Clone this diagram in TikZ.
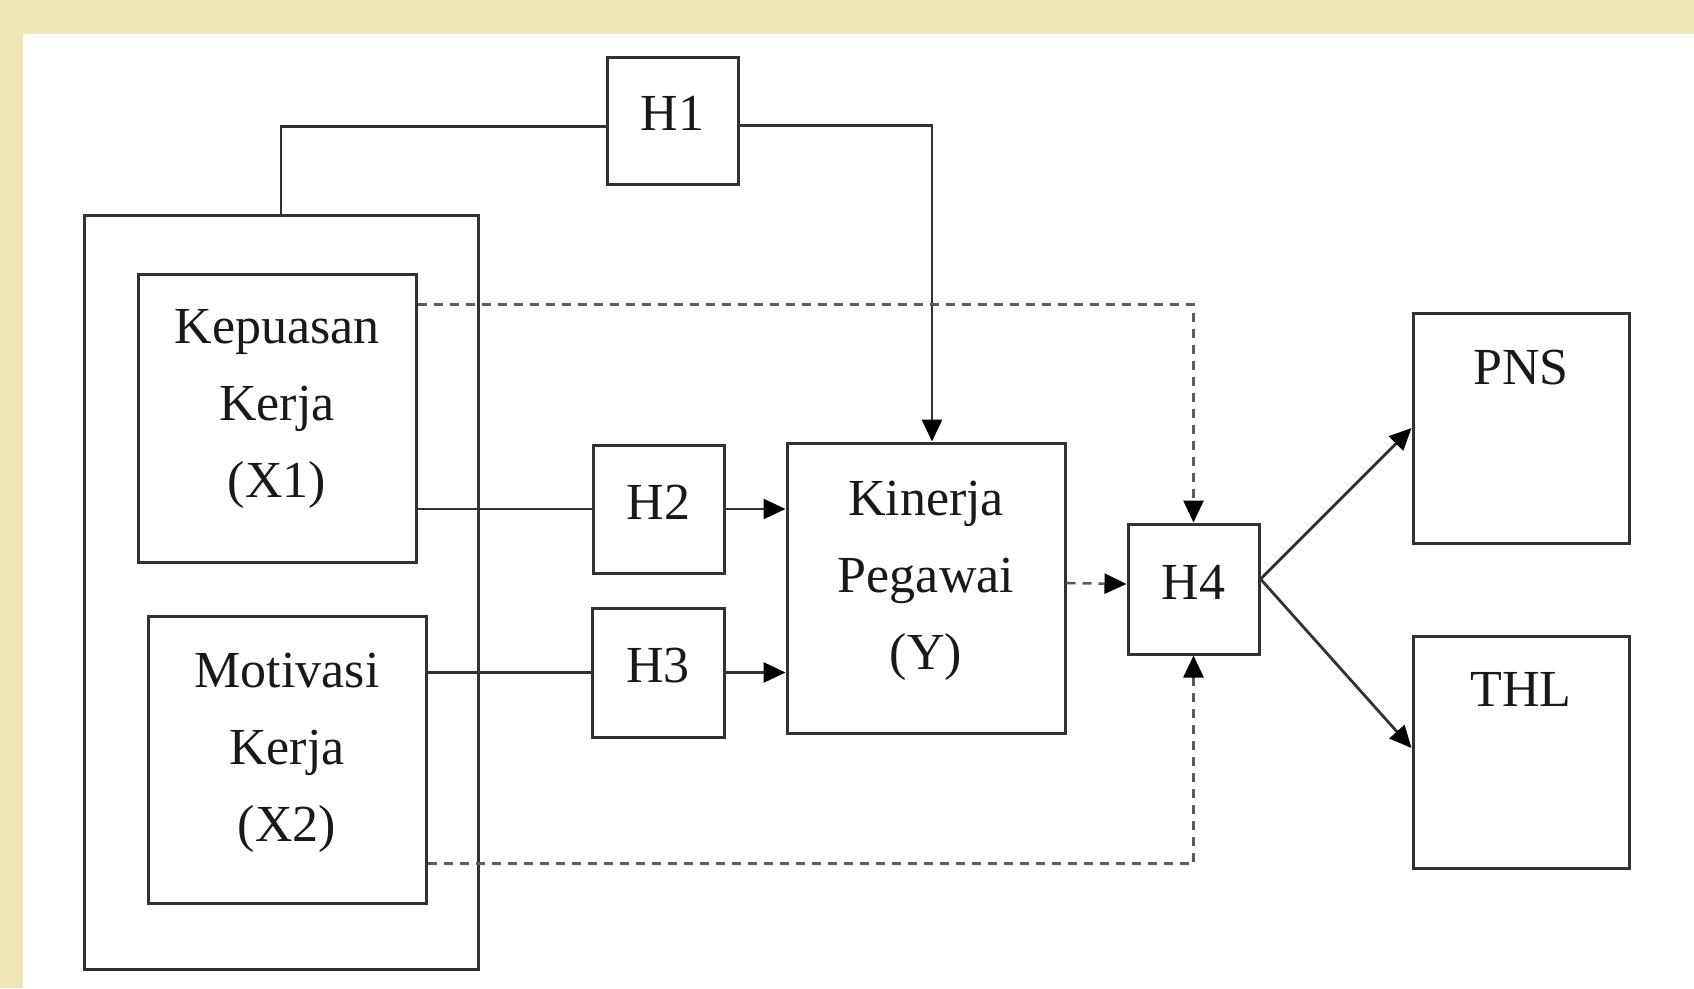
\documentclass[tikz,border=0pt]{standalone}
\usepackage{fontspec}
\setmainfont{Liberation Serif}
\usetikzlibrary{arrows.meta,calc}
\definecolor{beige}{RGB}{240,230,184}
\definecolor{ln}{RGB}{50,50,50}
\definecolor{txt}{RGB}{25,25,25}
\begin{document}
\begin{tikzpicture}[x=1pt,y=-1pt,
  box/.style={draw=ln,line width=3pt,fill=white,inner sep=0pt},
  lbl/.style={inner sep=0pt,text=txt,align=center,font=\fontsize{52}{77}\selectfont},
  conn/.style={draw=ln,line width=2.8pt},
  arr/.style={conn,-{Triangle[length=22pt,width=20pt,color=black]}},
  dsh/.style={draw=ln!80,line width=2.6pt,dash pattern=on 9pt off 7pt},
  darr/.style={dsh,-{Triangle[length=22pt,width=20pt,color=black]}}]
\useasboundingbox (0,0) rectangle (1694,988);
\fill[beige] (0,0) rectangle (1694,988);
\fill[white] (23,34) rectangle (1694,988);
% boxes
\node[box,minimum width=394pt,minimum height=754pt] (outer) at (281,592) {};
\node[box,minimum width=278pt,minimum height=288pt] (kep) at (277,418) {};
\node[box,minimum width=278pt,minimum height=287pt] (mot) at (287,759.5) {};
\node[box,minimum width=131pt,minimum height=127pt] (h1) at (672.5,120.5) {};
\node[box,minimum width=131pt,minimum height=128pt] (h2) at (658.5,509) {};
\node[box,minimum width=132pt,minimum height=129pt] (h3) at (658,672.5) {};
\node[box,minimum width=278pt,minimum height=290pt] (kin) at (926,588) {};
\node[box,minimum width=131pt,minimum height=130pt] (h4) at (1193.5,589) {};
\node[box,minimum width=216pt,minimum height=230pt] (pns) at (1521,428) {};
\node[box,minimum width=216pt,minimum height=232pt] (thl) at (1521,752) {};
% texts
\node[lbl] (kept) at ([yshift=9pt]kep.center) {Kepuasan\\Kerja\\(X1)};
\node[lbl] (mott) at ([yshift=7pt]mot.center) {Motivasi\\Kerja\\(X2)};
\node[lbl] (h1t) at ([yshift=7pt]h1.center) {H1};
\node[lbl] (h2t) at ([yshift=7pt]h2.center) {H2};
\node[lbl] (h3t) at ([yshift=7pt]h3.center) {H3};
\node[lbl] (kint) at ([yshift=7pt]kin.center) {Kinerja\\Pegawai\\(Y)};
\node[lbl] (h4t) at ([yshift=7pt]h4.center) {H4};
\node[lbl,anchor=north] (pnst) at ([yshift=-38pt]pns.north) {PNS};
\node[lbl,anchor=north] (thlt) at ([yshift=-38pt]thl.north) {THL};
% connectors
\draw[conn] (outer.north) |- ([yshift=-6pt]h1.west);
\draw[arr] ([yshift=-5pt]h1.east) -| ([xshift=6pt]kin.north);
\draw[conn] (h2.west) -- (h2.west -| kep.east);
\draw[arr] (h2.east) -- (h2.east -| kin.west);
\draw[conn] (h3.west) -- (h3.west -| mot.east);
\draw[arr] (h3.east) -- (h3.east -| kin.west);
\draw[darr] ([yshift=-32pt]kep.north east) -| (h4.north);
\draw[darr] ([yshift=41pt]mot.south east) -| (h4.south);
\draw[darr] ([yshift=5pt]kin.east) -- ([yshift=5pt]h4.west);
\coordinate (h4o) at ([yshift=10pt]h4.east);
\draw[arr] (h4o) -- (pns.west);
\draw[arr] (h4o) -- ([yshift=4pt]thl.west);
\end{tikzpicture}
\end{document}
